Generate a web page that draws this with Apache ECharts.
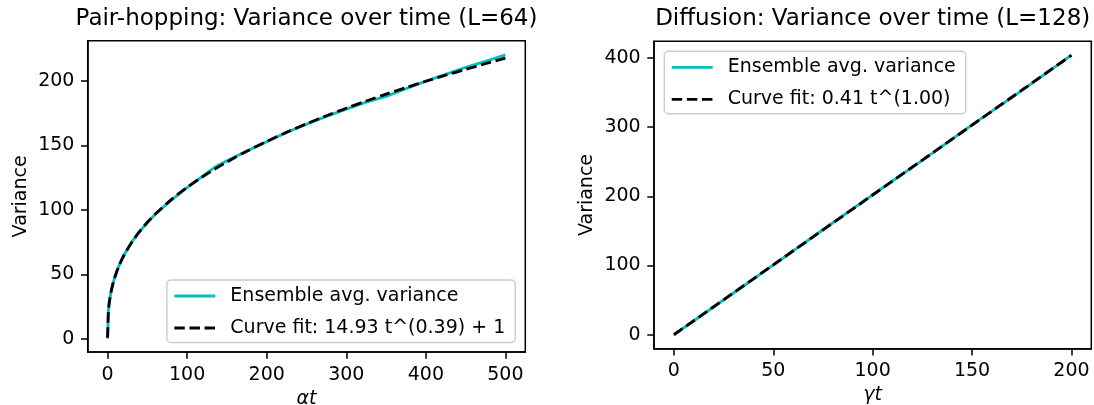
<!DOCTYPE html>
<html>
<head>
<meta charset="utf-8">
<script src="https://cdn.jsdelivr.net/npm/echarts@6/dist/echarts.min.js"></script>
<style>
html, body { margin: 0; padding: 0; background: #ffffff; }
#chart { width: 1094px; height: 405px; }
</style>
</head>
<body>
<div id="chart"></div>
<script>
// ---- Data ----
const timeLeft     = [0, 1, 2, 4, 7, 10, 15, 20, 30, 40, 50, 60, 80, 100, 120, 135, 150, 175, 200, 225, 250, 275, 300, 325, 350, 375, 400, 425, 450, 475, 500];
const ensembleLeft = [0.5, 21.0, 27.5, 35.5, 43.5, 49.8, 57.9, 64.5, 74.8, 83.0, 90.2, 96.6, 107.6, 117.3, 126.3, 133.2, 138.0, 145.6, 152.8, 160.0, 166.3, 172.4, 178.0, 183.4, 187.9, 193.8, 199.7, 205.0, 210.3, 215.0, 220.0];
const fitLeft      = [1.0, 22.0, 27.9, 35.6, 43.6, 49.6, 57.6, 64.1, 74.6, 83.1, 90.4, 96.8, 107.9, 117.5, 125.9, 131.7, 137.1, 145.4, 153.0, 160.1, 166.7, 172.9, 178.7, 184.3, 189.6, 194.7, 199.6, 204.3, 208.8, 213.2, 217.5];

const timeRight     = [0, 25, 50, 75, 100, 125, 150, 175, 200];
const ensembleRight = [0, 50.2, 100.6, 151.8, 202.3, 252.0, 303.4, 353.0, 404.3];
const fitRight      = [0, 50.5, 101.0, 151.5, 202.0, 252.5, 303.0, 353.5, 404.0];

const xTicksLeft  = [0, 100, 200, 300, 400, 500];
const yTicksLeft  = [0, 50, 100, 150, 200];
const xTicksRight = [0, 50, 100, 150, 200];
const yTicksRight = [0, 100, 200, 300, 400];

const titleLeft  = 'Pair-hopping: Variance over time (L=64)';
const titleRight = 'Diffusion: Variance over time (L=128)';
const nameEnsemble = 'Ensemble avg. variance';
const nameFitLeft  = 'Curve fit: 14.93 t^(0.39) + 1';
const nameFitRight = 'Curve fit: 0.41 t^(1.00)';

// ---- Styling ----
const FONT = 'DejaVu Sans';
const FS = 19;
const CYAN = '#00bfbf';
const LW = 2.85;
const DASH = [10.5, 4.6];
const SPINE = 1.52;

const pairs = (xs, ys) => xs.map((x, i) => [x, ys[i]]);

function valueAxis(gridIndex, min, max, ticks, name, isX, italic) {
  return {
    type: 'value',
    gridIndex: gridIndex,
    min: min,
    max: max,
    name: name,
    nameLocation: 'middle',
    nameGap: isX ? 33.5 : 57,
    nameTextStyle: { fontFamily: FONT, fontSize: FS, color: '#000', fontStyle: italic ? 'italic' : 'normal' },
    axisLine: { show: true, onZero: false, lineStyle: { color: '#000', width: SPINE } },
    axisTick: { show: true, inside: false, length: 6.7, lineStyle: { color: '#000', width: SPINE }, customValues: ticks },
    axisLabel: { show: true, margin: 13.3, fontFamily: FONT, fontSize: FS, color: '#000', customValues: ticks },
    splitLine: { show: false }
  };
}

const legendCommon = {
  orient: 'vertical',
  itemWidth: 41,
  itemHeight: 19,
  itemGap: 13,
  padding: [6.5, 10, 5, 6],
  backgroundColor: 'rgba(255,255,255,0.8)',
  borderColor: '#cccccc',
  borderWidth: 1.4,
  borderRadius: 4,
  itemStyle: { opacity: 0 },
  lineStyle: { width: LW },
  textStyle: { fontFamily: FONT, fontSize: FS, color: '#000', padding: [0, 0, 0, 10] },
  selectedMode: false
};

const option = {
  animation: false,
  backgroundColor: '#ffffff',
  title: [
    { text: titleLeft, left: 306.5, top: 7.5, padding: 0, textAlign: 'center',
      textStyle: { fontFamily: FONT, fontSize: 23, fontWeight: 'normal', color: '#000' } },
    { text: titleRight, left: 872.7, top: 7.5, padding: 0, textAlign: 'center',
      textStyle: { fontFamily: FONT, fontSize: 23, fontWeight: 'normal', color: '#000' } }
  ],
  grid: [
    { left: 87.7, top: 40.7, width: 437.6, height: 311.3, show: true, borderColor: '#000', borderWidth: SPINE,
      backgroundColor: 'transparent', containLabel: false, outerBoundsMode: 'none' },
    { left: 654, top: 41.3, width: 437.3, height: 307.4, show: true, borderColor: '#000', borderWidth: SPINE,
      backgroundColor: 'transparent', containLabel: false, outerBoundsMode: 'none' }
  ],
  xAxis: [
    valueAxis(0, -25, 525, xTicksLeft, 'αt', true, true),
    valueAxis(1, -10, 210, xTicksRight, 'γt', true, true)
  ],
  yAxis: [
    valueAxis(0, -10, 231, yTicksLeft, 'Variance', false, false),
    valueAxis(1, -20.2, 424.2, yTicksRight, 'Variance', false, false)
  ],
  legend: [
    Object.assign({}, legendCommon, { data: [nameEnsemble, nameFitLeft], right: 578.7, bottom: 62.5 }),
    Object.assign({}, legendCommon, { data: [nameEnsemble, nameFitRight], left: 664.3, top: 51.3 })
  ],
  series: [
    { name: nameEnsemble, type: 'line', xAxisIndex: 0, yAxisIndex: 0, data: pairs(timeLeft, ensembleLeft),
      symbol: 'none', lineStyle: { color: CYAN, width: LW }, itemStyle: { color: CYAN }, z: 2 },
    { name: nameFitLeft, type: 'line', xAxisIndex: 0, yAxisIndex: 0, data: pairs(timeLeft, fitLeft), smooth: 0.3,
      symbol: 'none', lineStyle: { color: '#000', width: LW, type: DASH }, itemStyle: { color: '#000' }, z: 3 },
    { name: nameEnsemble, type: 'line', xAxisIndex: 1, yAxisIndex: 1, data: pairs(timeRight, ensembleRight),
      symbol: 'none', lineStyle: { color: CYAN, width: LW }, itemStyle: { color: CYAN }, z: 2 },
    { name: nameFitRight, type: 'line', xAxisIndex: 1, yAxisIndex: 1, data: pairs(timeRight, fitRight),
      symbol: 'none', lineStyle: { color: '#000', width: LW, type: DASH }, itemStyle: { color: '#000' }, z: 3 }
  ]
};

const chart = echarts.init(document.getElementById('chart'), null, { renderer: 'canvas' });
chart.setOption(option);
</script>
</body>
</html>
